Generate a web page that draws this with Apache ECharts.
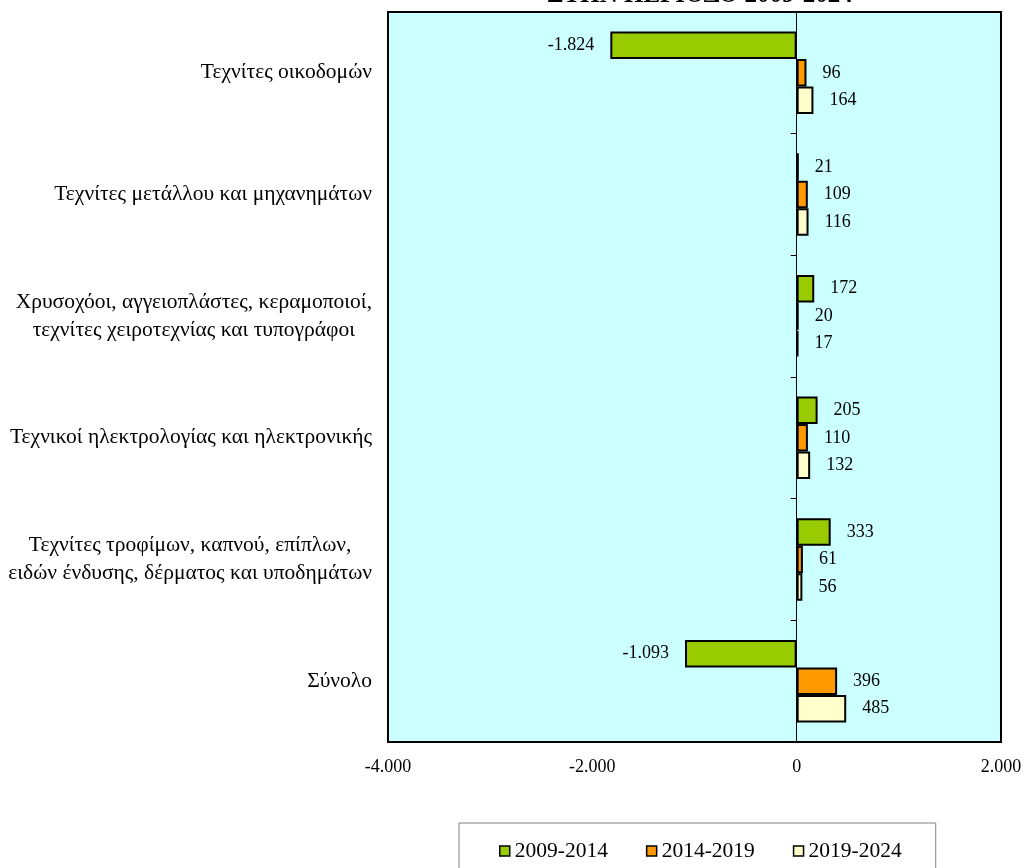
<!DOCTYPE html>
<html>
<head>
<meta charset="utf-8">
<script src="https://cdn.jsdelivr.net/npm/echarts@6/dist/echarts.min.js"></script>
<style>html,body{margin:0;padding:0;background:#fff}#c{width:1027px;height:868px}</style>
</head>
<body>
<div id="c"></div>
<script>
const categories = [
  "Τεχνίτες οικοδομών",
  "Τεχνίτες μετάλλου και μηχανημάτων",
  "Χρυσοχόοι, αγγειοπλάστες, κεραμοποιοί,\nτεχνίτες χειροτεχνίας και τυπογράφοι",
  "Τεχνικοί ηλεκτρολογίας και ηλεκτρονικής",
  "Τεχνίτες τροφίμων, καπνού, επίπλων,\nειδών ένδυσης, δέρματος και υποδημάτων",
  "Σύνολο"
];
const seriesNames = ["2009-2014", "2014-2019", "2019-2024"];
const values2009_2014 = [-1824, 21, 172, 205, 333, -1093];
const values2014_2019 = [96, 109, 20, 110, 61, 396];
const values2019_2024 = [164, 116, 17, 132, 56, 485];
const xTicks = { min: -4000, max: 2000, interval: 2000 };
const titleText = "ΣΤΗΝ ΠΕΡΙΟΔΟ 2009-2024";

const colors = ["#99CC00", "#FF9900", "#FFFFCC"];
const FONT = "'Liberation Serif', 'Times New Roman', serif";

function fmt(v) {
  const s = Math.abs(v).toString().replace(/\B(?=(\d{3})+(?!\d))/g, '.');
  return (v < 0 ? '-' : '') + s;
}
function mkData(arr) {
  return arr.map(v => ({
    value: v,
    label: v < 0 ? { position: 'left', distance: 16 } : { position: 'right', distance: 16 }
  }));
}
const allValues = [values2009_2014, values2014_2019, values2019_2024];

const chart = echarts.init(document.getElementById('c'));
chart.setOption({
  animation: false,
  title: {
    text: titleText,
    left: 695,
    top: -22,
    textAlign: 'center',
    textStyle: { fontFamily: FONT, fontSize: 25, fontWeight: 'bold', color: '#000' }
  },
  legend: {
    data: seriesNames,
    left: 459,
    top: 823,
    orient: 'horizontal',
    padding: [17, 34, 20, 40],
    borderColor: '#808080',
    borderWidth: 1,
    itemWidth: 10,
    itemHeight: 10,
    itemGap: 38,
    icon: 'rect',
    itemStyle: { borderColor: '#000', borderWidth: 1.5 },
    textStyle: { fontFamily: FONT, fontSize: 21.5, color: '#000' }
  },
  grid: {
    left: 388, right: 26, top: 12, bottom: 126,
    show: true,
    backgroundColor: '#CCFFFF',
    borderColor: '#000',
    borderWidth: 2,
    containLabel: false
  },
  xAxis: {
    type: 'value',
    min: xTicks.min, max: xTicks.max, interval: xTicks.interval,
    splitLine: { show: false },
    axisLine: { show: true, lineStyle: { color: '#000', width: 2 } },
    axisTick: { show: false },
    axisLabel: {
      margin: 16,
      fontFamily: FONT, fontSize: 18, color: '#000',
      formatter: v => fmt(v)
    }
  },
  yAxis: [{
    type: 'category',
    data: categories,
    inverse: true,
    axisLine: { show: false, onZero: false },
    axisTick: { show: false },
    axisLabel: {
      margin: 16,
      color: '#000',
      fontFamily: FONT,
      fontSize: 21.5,
      lineHeight: 28,
      formatter: v => v.split('\n').map(l => '{a|' + l + '}').join('\n'),
      rich: { a: { align: 'center', fontFamily: FONT, fontSize: 21.5, lineHeight: 28, color: '#000' } }
    }
  }, {
    type: 'category',
    data: categories,
    inverse: true,
    position: 'left',
    axisLine: { show: true, onZero: true, lineStyle: { color: '#000', width: 1 } },
    axisTick: { show: true, length: 6, lineStyle: { color: '#000' } },
    axisLabel: { show: false }
  }],
  series: seriesNames.map((name, i) => ({
    name: name,
    type: 'bar',
    yAxisIndex: 0,
    barWidth: 27.5,
    barGap: '0%',
    data: mkData(allValues[i]),
    itemStyle: { color: colors[i], borderColor: '#000', borderWidth: 2 },
    label: {
      show: true,
      fontFamily: FONT, fontSize: 18, color: '#000',
      formatter: p => fmt(p.value)
    }
  }))
});
</script>
</body>
</html>
